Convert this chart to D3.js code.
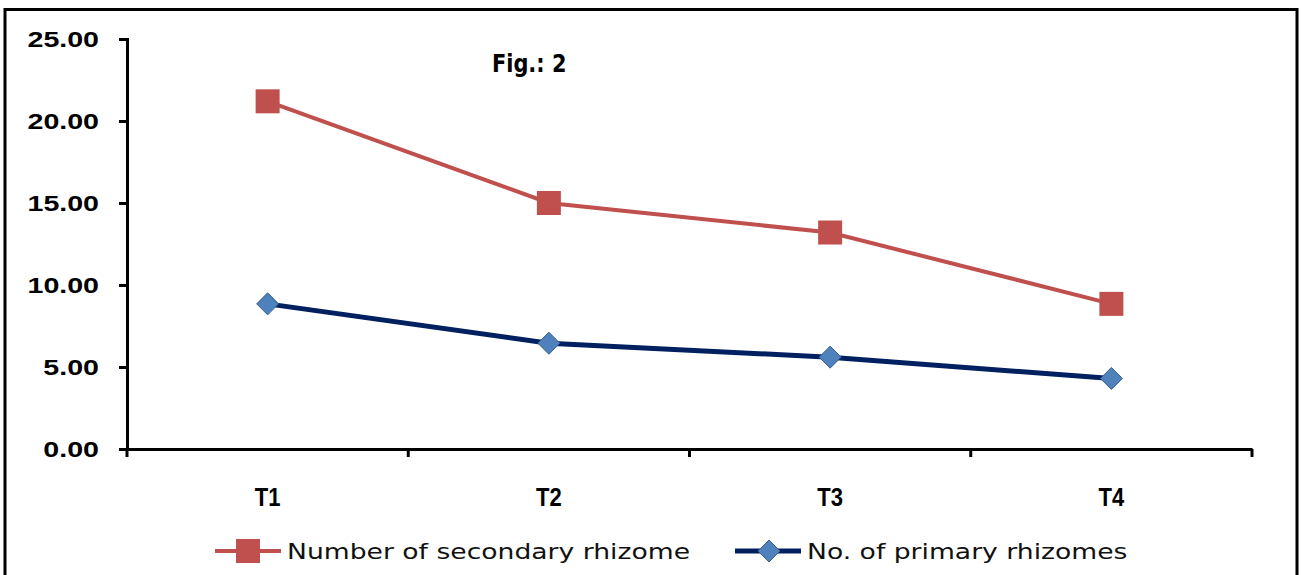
<!DOCTYPE html>
<meta charset="utf-8">
<style>
    body {
        margin: 0;
        background: white;
    }
    svg {
        font-family: "DejaVu Sans", sans-serif;
    }
    .axis path,
    .axis line {
        fill: none;
        stroke: black;
        stroke-width: 3px;
    }
    .axis text {
        font-weight: bold;
        fill: black;
    }
    .y.axis text { font-size: 22px; }
    .x.axis text { font-size: 25px; }
</style>
<body>
<script src="https://d3js.org/d3.v7.min.js"></script>
<script>
    // values
    const categories = ['T1', 'T2', 'T3', 'T4'];
    const secondary = [21.2, 15.0, 13.2, 8.85];
    const primary = [8.85, 6.45, 5.6, 4.3];
    const yTicks = [0, 5, 10, 15, 20, 25];
    const seriesNames = ['Number of secondary rhizome', 'No. of primary rhizomes'];

    const width = 1303, height = 575;
    const margin = {top: 39, right: 51, bottom: 126, left: 127};

    // the original text is drawn a bit wider/narrower than DejaVu, squeeze it horizontally
    function stretch(sel, k) {
        sel.each(function() {
            const t = d3.select(this);
            const x0 = +t.attr('x') || 0;
            t.attr('x', x0 / k).attr('transform', 'scale(' + k + ',1)');
        });
    }

    const svg = d3.select('body')
        .append('svg')
        .attr('width', width)
        .attr('height', height);

    // outer frame
    svg.append('rect')
        .attr('x', 5)
        .attr('y', 9.5)
        .attr('width', 1292)
        .attr('height', 600)
        .style('fill', 'none')
        .style('stroke', 'black')
        .style('stroke-width', 3);

    const x = d3.scaleBand()
        .domain(categories)
        .range([margin.left, width - margin.right]);

    const y = d3.scaleLinear()
        .domain([0, 25])
        .range([height - margin.bottom, margin.top]);

    // y-axis
    const yAxis = svg.append('g')
        .attr('class', 'y axis')
        .attr('transform', 'translate(' + margin.left + ',0)')
        .call(d3.axisLeft(y).tickValues(yTicks).tickFormat(d3.format('.2f')).tickSize(8).tickSizeOuter(8).tickPadding(20));
    stretch(yAxis.selectAll('text'), 1.3);

    // x-axis, ticks sit between the categories
    const xAxis = svg.append('g')
        .attr('class', 'x axis')
        .attr('transform', 'translate(0,' + y(0) + ')')
        .call(d3.axisBottom(x).tickSize(0).tickPadding(39));
    stretch(xAxis.selectAll('text'), 0.88);
    xAxis.selectAll('.edge')
        .data(d3.range(categories.length + 1))
        .enter().append('line')
        .attr('class', 'edge')
        .attr('x1', i => margin.left + i * x.step())
        .attr('x2', i => margin.left + i * x.step())
        .attr('y1', 0)
        .attr('y2', 8);

    const cx = d => x(d) + x.bandwidth() / 2;
    const line = d3.line()
        .x((d, i) => cx(categories[i]))
        .y(d => y(d));

    // secondary rhizomes (red squares)
    svg.append('path')
        .datum(secondary)
        .attr('d', line)
        .style('fill', 'none')
        .style('stroke', '#C0504D')
        .style('stroke-width', 4);
    svg.selectAll('.sq')
        .data(secondary)
        .enter().append('rect')
        .attr('class', 'sq')
        .attr('x', (d, i) => cx(categories[i]) - 12)
        .attr('y', d => y(d) - 12)
        .attr('width', 24)
        .attr('height', 24)
        .style('fill', '#C0504D');

    // primary rhizomes (blue diamonds)
    svg.append('path')
        .datum(primary)
        .attr('d', line)
        .style('fill', 'none')
        .style('stroke', '#002060')
        .style('stroke-width', 5);
    const diamond = 'M0,-11L11,0L0,11L-11,0Z';
    svg.selectAll('.dm')
        .data(primary)
        .enter().append('path')
        .attr('class', 'dm')
        .attr('d', diamond)
        .attr('transform', (d, i) => 'translate(' + cx(categories[i]) + ',' + y(d) + ')')
        .style('fill', '#4F81BD')
        .style('stroke', '#385D8A')
        .style('stroke-width', 1);

    // title inside plot
    const title = svg.append('text')
        .attr('x', 492)
        .attr('y', 72)
        .style('font-size', '24px')
        .style('font-weight', 'bold')
        .text('Fig.: 2');
    stretch(title, 0.87);

    // legend
    const legend = svg.selectAll('.legend')
        .data(seriesNames)
        .enter().append('g')
        .attr('class', 'legend')
        .attr('transform', (d, i) => 'translate(' + (i === 0 ? 215 : 735) + ',551)');
    legend.append('line')
        .attr('x1', 0)
        .attr('x2', 66)
        .style('stroke', (d, i) => i === 0 ? '#C0504D' : '#002060')
        .style('stroke-width', (d, i) => i === 0 ? 4 : 5);
    legend.filter((d, i) => i === 0).append('rect')
        .attr('x', 21)
        .attr('y', -12)
        .attr('width', 24)
        .attr('height', 24)
        .style('fill', '#C0504D');
    legend.filter((d, i) => i === 1).append('path')
        .attr('d', diamond)
        .attr('transform', 'translate(34,0)')
        .style('fill', '#4F81BD')
        .style('stroke', '#385D8A');
    const legendText = legend.append('text')
        .attr('x', 72)
        .attr('dy', '0.35em')
        .style('font-size', '22px')
        .style('fill', '#111')
        .text(d => d);
    stretch(legendText, 1.21);
</script>
</body>
</html>
